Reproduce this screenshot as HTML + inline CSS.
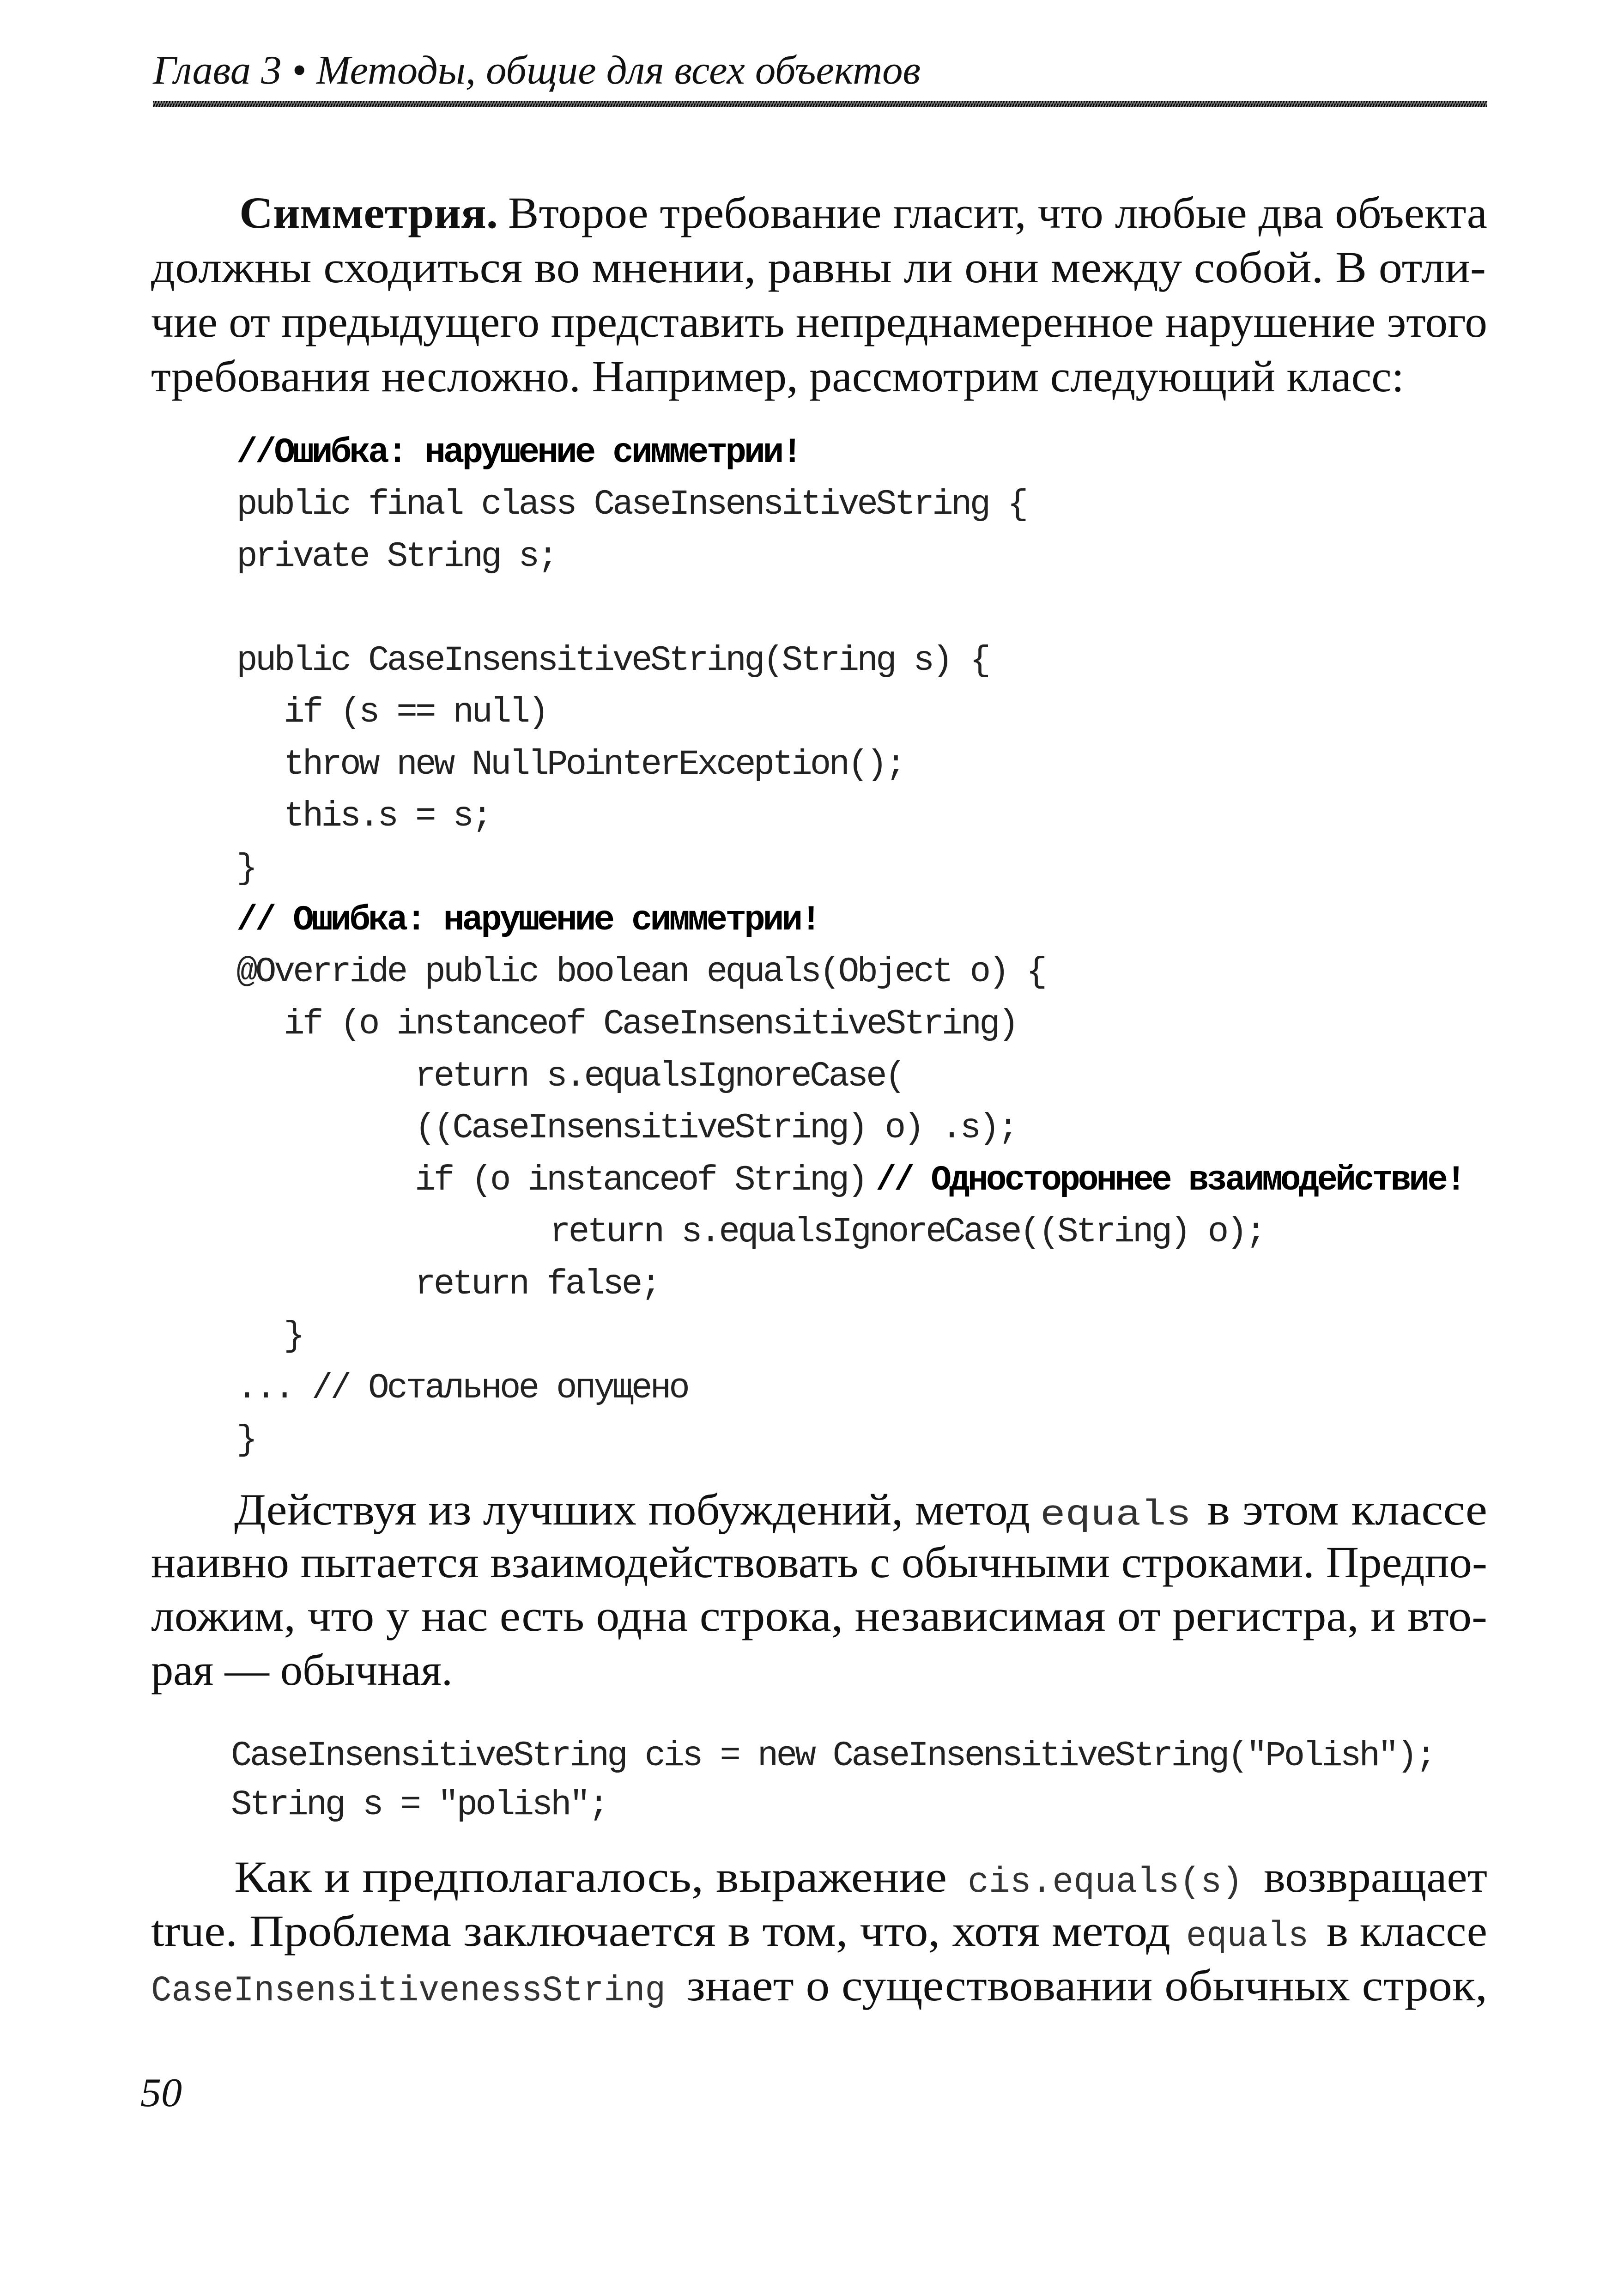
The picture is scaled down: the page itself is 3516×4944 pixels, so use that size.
<!DOCTYPE html>
<html><head><meta charset="utf-8"><style>
html,body{margin:0;padding:0;background:#fff}
svg{display:block}
.s{font-family:"Liberation Serif","DejaVu Serif",serif;font-size:96px;fill:#111}
.m{font-family:"Liberation Mono","DejaVu Sans Mono",monospace;font-size:76px;letter-spacing:-4.9px;fill:#222}
.mb{font-family:"Liberation Mono","DejaVu Sans Mono",monospace;font-size:76px;letter-spacing:-4.9px;font-weight:bold;fill:#000}
.pm{font-family:"Liberation Mono","DejaVu Sans Mono",monospace;font-size:78px;fill:#333}
</style></head><body>
<svg width="3516" height="4944" viewBox="0 0 3516 4944" xmlns="http://www.w3.org/2000/svg">
<defs><pattern id="h" width="6" height="14" patternUnits="userSpaceOnUse"><rect width="6" height="14" fill="#888"/><line x1="0" y1="14" x2="5" y2="0" stroke="#000" stroke-width="3"/></pattern></defs>
<text x="331" y="181" font-family="Liberation Serif, serif" font-style="italic" font-size="88" textLength="1662" lengthAdjust="spacingAndGlyphs" fill="#111">Глава 3 • Методы, общие для всех объектов</text>
<rect x="331" y="219" width="2889" height="13" fill="url(#h)"/>

<text class="s" x="518" y="493" font-weight="bold" textLength="560" lengthAdjust="spacingAndGlyphs">Симметрия.</text>
<text class="s" x="1100" y="493" textLength="2120" lengthAdjust="spacingAndGlyphs">Второе требование гласит, что любые два объекта</text>
<text class="s" x="327" y="611" textLength="2890" lengthAdjust="spacingAndGlyphs">должны сходиться во мнении, равны ли они между собой. В отли-</text>
<text class="s" x="327" y="729" textLength="2893" lengthAdjust="spacingAndGlyphs">чие от предыдущего представить непреднамеренное нарушение этого</text>
<text class="s" x="327" y="847" textLength="2713" lengthAdjust="spacingAndGlyphs">требования несложно. Например, рассмотрим следующий класс:</text>

<text class="mb" x="512" y="1000">//Ошибка: нарушение симметрии!</text>
<text class="m" x="512" y="1112">public final class CaseInsensitiveString {</text>
<text class="m" x="512" y="1225">private String s;</text>
<text class="m" x="512" y="1450">public CaseInsensitiveString(String s) {</text>
<text class="m" x="614" y="1562">if (s == null)</text>
<text class="m" x="614" y="1675">throw new NullPointerException();</text>
<text class="m" x="614" y="1787">this.s = s;</text>
<text class="m" x="512" y="1900">}</text>
<text class="mb" x="512" y="2012">// Ошибка: нарушение симметрии!</text>
<text class="m" x="512" y="2124">@Override public boolean equals(Object o) {</text>
<text class="m" x="614" y="2237">if (o instanceof CaseInsensitiveString)</text>
<text class="m" x="898" y="2350">return s.equalsIgnoreCase(</text>
<text class="m" x="898" y="2462">((CaseInsensitiveString) o) .s);</text>
<text class="m" x="898" y="2575">if (o instanceof String)</text>
<text class="mb" x="1896" y="2575" textLength="1274" lengthAdjust="spacingAndGlyphs">// Одностороннее взаимодействие!</text>
<text class="m" x="1190" y="2687">return s.equalsIgnoreCase((String) o);</text>
<text class="m" x="898" y="2800">return false;</text>
<text class="m" x="614" y="2912">}</text>
<text class="m" x="512" y="3025">... // Остальное опущено</text>
<text class="m" x="512" y="3137">}</text>

<text class="s" x="507" y="3300" textLength="1723" lengthAdjust="spacingAndGlyphs">Действуя из лучших побуждений, метод</text>
<text class="pm" x="2252" y="3300" textLength="327" lengthAdjust="spacingAndGlyphs">equals</text>
<text class="s" x="2613" y="3300" textLength="607" lengthAdjust="spacingAndGlyphs">в этом классе</text>
<text class="s" x="327" y="3414" textLength="2893" lengthAdjust="spacingAndGlyphs">наивно пытается взаимодействовать с обычными строками. Предпо-</text>
<text class="s" x="327" y="3530" textLength="2893" lengthAdjust="spacingAndGlyphs">ложим, что у нас есть одна строка, независимая от регистра, и вто-</text>
<text class="s" x="327" y="3647" textLength="653" lengthAdjust="spacingAndGlyphs">рая — обычная.</text>

<text class="m" x="500" y="3821">CaseInsensitiveString cis = new CaseInsensitiveString("Polish");</text>
<text class="m" x="500" y="3927">String s = "polish";</text>

<text class="s" x="507" y="4095" textLength="1543" lengthAdjust="spacingAndGlyphs">Как и предполагалось, выражение</text>
<text class="pm" x="2095" y="4095" textLength="596" lengthAdjust="spacingAndGlyphs">cis.equals(s)</text>
<text class="s" x="2736" y="4095" textLength="484" lengthAdjust="spacingAndGlyphs">возвращает</text>
<text class="s" x="327" y="4212" textLength="2207" lengthAdjust="spacingAndGlyphs">true. Проблема заключается в том, что, хотя метод</text>
<text class="pm" x="2568" y="4212" textLength="265" lengthAdjust="spacingAndGlyphs">equals</text>
<text class="s" x="2872" y="4212" textLength="348" lengthAdjust="spacingAndGlyphs">в классе</text>
<text class="pm" x="327" y="4330" textLength="1114" lengthAdjust="spacingAndGlyphs">CaseInsensitivenessString</text>
<text class="s" x="1486" y="4330" textLength="1734" lengthAdjust="spacingAndGlyphs">знает о существовании обычных строк,</text>

<text x="304" y="4559" font-family="Liberation Serif, serif" font-style="italic" font-size="88" textLength="90" lengthAdjust="spacingAndGlyphs" fill="#111">50</text>
</svg>
</body></html>
